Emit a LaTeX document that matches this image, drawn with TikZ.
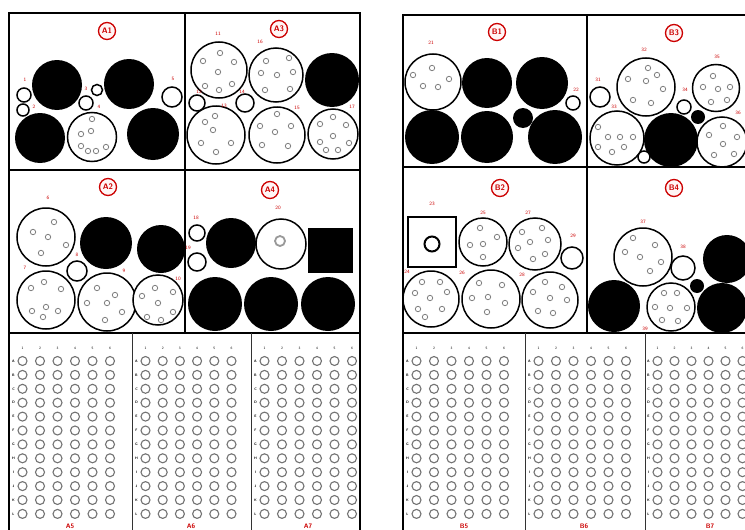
\documentclass[tikz,border=0pt]{standalone}
\usepackage{fontspec}
\setmainfont{Liberation Sans}
\newcommand\tubew[4]{\draw[tube] (#1,#2) circle[radius=#3pt]; \foreach \p/\q in {#4} {\draw[hole] (\p,\q) circle[radius=2.7pt];}}
\newcommand\plugb[3]{\fill[black] (#1,#2) circle[radius=#3pt];}
\newcommand\smallw[3]{\draw[tube] (#1,#2) circle[radius=#3pt];}
\newcommand\wellgrid[2]{% #1 left x, #2 column spacing
  \foreach \c in {1,...,6} {%
    \node[hdr] at (#1+13.5+#2*\c-#2, 348) {\c};
    \foreach \r in {0,...,11} {\draw[well] (#1+13.5+#2*\c-#2, 361+13.9*\r) circle[radius=4.5pt];}
  }
  \foreach \L [count=\r from 0] in {A,B,C,D,E,F,G,H,I,J,K,L} {\node[rowl] at (#1+4.5, 361+13.9*\r) {\L};}
}
\begin{document}
\begin{tikzpicture}[x=1pt,y=-1pt,
  tube/.style={draw=black, line width=1.5pt, fill=white},
  hole/.style={draw=black!50, line width=0.8pt},
  well/.style={draw=black!55, line width=1.1pt},
  frame/.style={draw=black, line width=1.6pt},
  thinframe/.style={draw=black!80, line width=1pt},
  num/.style={text=red!80!black, font=\fontsize{5}{6}\selectfont\sffamily, inner sep=0pt},
  bnum/.style={text=red!80!black, font=\fontsize{6.5}{7}\selectfont\sffamily\bfseries, inner sep=0pt},
  hdr/.style={text=black, font=\fontsize{3.5}{4}\selectfont\sffamily, inner sep=0pt},
  rowl/.style={text=black, font=\fontsize{3.5}{4}\selectfont\sffamily\bfseries, inner sep=0pt},
  lbl/.style={circle, draw=red!80!black, line width=1.3pt, text=red!80!black, fill=red!4,
    font=\fontsize{8}{9}\selectfont\sffamily\bfseries, inner sep=0pt, minimum size=17pt}]
\useasboundingbox (0,0) rectangle (745,530);
\clip (0,0) rectangle (745,530);
\fill[white] (0,0) rectangle (745,530);

% ---------- frames ----------
\draw[frame] (9,13) rectangle (360,545);
\draw[frame] (185,13) -- (185,333);
\draw[frame] (9,170) -- (360,170);
\draw[frame] (9,333) -- (360,333);
\draw[thinframe] (132,333) -- (132,545);
\draw[thinframe] (251,333) -- (251,545);

\draw[frame] (403,15) rectangle (765,545);
\draw[frame] (587,15) -- (587,333);
\draw[frame] (403,167) -- (765,167);
\draw[frame] (403,333) -- (765,333);
\draw[thinframe] (525,333) -- (525,545);
\draw[thinframe] (645,333) -- (645,545);

% ---------- A1 ----------
\node[lbl] (A1) at (107,31) {A1};
\plugb{57}{85}{25}
\plugb{129}{84}{25}
\plugb{40}{138}{25}
\plugb{153}{134}{26}
\tubew{92}{137}{24.5}{92/119, 91/131, 81/134, 81/146, 88/151, 96/151, 106/147}
\smallw{24}{95}{7}
\smallw{23}{110}{6}
\smallw{86}{103}{7}
\smallw{97}{90}{5.5}
\smallw{172}{97}{10}
\node[num] at (25,80) {1};
\node[num] at (34,107) {2};
\node[num] at (86,89) {3};
\node[num] at (99,107) {4};
\node[num] at (173,79) {5};

% ---------- A3 ----------
\node[lbl] (A3) at (279,29) {A3};
\tubew{219}{70}{28}{220/53, 203/61, 234/62, 218/72, 205/86, 219/90, 232/84}
\tubew{276}{75}{27}{266/61, 289/58, 261/73, 277/75, 293/72, 265/90, 290/89}
\plugb{332}{80}{27}
\tubew{216}{135}{29}{215/116, 205/122, 213/130, 201/143, 231/143, 216/152}
\tubew{277}{135}{28}{277/114, 260/126, 291/126, 275/132, 262/145, 288/146}
\tubew{333}{134}{25}{333/117, 320/124, 346/125, 333/136, 320/142, 326/150, 338/150, 349/143}
\smallw{197}{103}{8}
\smallw{245}{103}{9}
\node[num] at (218,34) {11};
\node[num] at (199,92) {12};
\node[num] at (224,106) {13};
\node[num] at (242,92) {14};
\node[num] at (297,108) {15};
\node[num] at (260,42) {16};
\node[num] at (352,107) {17};

% ---------- A2 ----------
\node[lbl] (A2) at (108,187) {A2};
\tubew{46}{237}{29}{33/232, 54/222, 48/237, 66/245, 41/253}
\plugb{106}{243}{26}
\plugb{161}{249}{24}
\tubew{46}{300}{29}{44/282, 31/288, 61/289, 46/307, 32/311, 43/317, 58/311}
\tubew{107}{302}{29}{97/288, 115/295, 87/303, 107/303, 122/312, 105/320}
\tubew{158}{300}{25}{155/288, 173/292, 142/296, 158/303, 173/312, 147/317, 161/320}
\smallw{77}{271}{10}
\node[num] at (48,198) {6};
\node[num] at (25,268) {7};
\node[num] at (77,255) {8};
\node[num] at (124,271) {9};
\node[num] at (178,279) {10};

% ---------- A4 ----------
\node[lbl] (A4) at (270,190) {A4};
\smallw{197}{233}{8}
\smallw{197}{262}{9}
\plugb{231}{243}{25}
\draw[tube] (281,244) circle[radius=25pt];
\draw[draw=black!40, line width=1.8pt] (280,241) circle[radius=5pt];
\fill[black] (308,228) rectangle (353,273);
\plugb{215}{304}{27}
\plugb{271}{304}{27}
\plugb{328}{304}{27}
\node[num] at (196,218) {18};
\node[num] at (188,248) {19};
\node[num] at (278,208) {20};

% ---------- B1 ----------
\node[lbl] (B1) at (497,32) {B1};
\tubew{433}{82}{28}{432/68, 413/75, 449/79, 423/86, 438/87}
\plugb{487}{83}{25}
\plugb{542}{83}{26}
\plugb{432}{137}{27}
\plugb{487}{137}{26}
\plugb{523}{118}{10}
\plugb{555}{137}{27}
\smallw{573}{103}{7}
\node[num] at (431,43) {21};
\node[num] at (576,90) {22};

% ---------- B3 ----------
\node[lbl] (B3) at (674,33) {B3};
\smallw{600}{97}{10}
\tubew{646}{87}{29}{648/68, 657/75, 628/79, 646/81, 663/89, 633/100, 651/103}
\tubew{716}{88}{23.5}{713/76, 703/87, 718/89, 730/87, 711/102, 727/100}
\smallw{684}{107}{7}
\tubew{617}{138}{27}{598/127, 608/137, 620/137, 633/137, 598/147, 624/147, 612/152}
\plugb{698}{117}{7}
\plugb{671}{140}{27}
\smallw{644}{157}{6}
\tubew{722}{142}{25}{723/126, 709/135, 737/137, 723/144, 714/155, 734/154}
\node[num] at (598,80) {31};
\node[num] at (644,50) {32};
\node[num] at (614,107) {33};
\node[num] at (685,90) {34};
\node[num] at (717,57) {35};
\node[num] at (738,113) {36};

% ---------- B2 ----------
\node[lbl] (B2) at (500,188) {B2};
\draw[tube] (408,217) rectangle (456,267);
\draw[black, line width=2pt] (432,244) circle[radius=7.5pt];
\tubew{483}{242}{24}{480/228, 497/237, 470/245, 483/244, 483/257}
\tubew{535}{244}{26}{522/232, 542/228, 530/242, 548/240, 518/248, 545/254, 533/259}
\smallw{572}{258}{11}
\tubew{431}{299}{28}{422/282, 440/282, 415/293, 447/292, 430/298, 418/309, 442/309, 425/317}
\tubew{491}{299}{29}{479/283, 502/285, 472/298, 488/297, 505/303, 487/312}
\tubew{550}{300}{28}{545/282, 562/287, 533/292, 550/298, 567/300, 538/311, 553/313}
\node[num] at (432,204) {23};
\node[num] at (407,272) {24};
\node[num] at (483,213) {25};
\node[num] at (462,273) {26};
\node[num] at (528,213) {27};
\node[num] at (522,275) {28};
\node[num] at (573,236) {29};

% ---------- B4 ----------
\node[lbl] (B4) at (674,188) {B4};
\tubew{643}{257}{29}{633/238, 655/245, 625/252, 640/257, 661/262, 650/271}
\smallw{683}{268}{12}
\plugb{697}{286}{7}
\plugb{727}{259}{24}
\plugb{614}{306}{26}
\tubew{671}{307}{24}{664/293, 677/293, 655/307, 670/308, 687/308, 662/320, 678/321}
\plugb{722}{308}{25}
\node[num] at (643,222) {37};
\node[num] at (683,247) {38};
\node[num] at (645,329) {39};

% ---------- racks ----------
\wellgrid{9}{17.5}
\wellgrid{132}{17.2}
\wellgrid{251}{17.5}
\wellgrid{403}{17.5}
\wellgrid{525}{17.5}
\wellgrid{644}{17}
\node[bnum] (A5) at (70,526) {A5};
\node[bnum] (A6) at (191,526) {A6};
\node[bnum] (A7) at (308,526) {A7};
\node[bnum] (B5) at (464,526) {B5};
\node[bnum] (B6) at (584,526) {B6};
\node[bnum] (B7) at (710,526) {B7};
\end{tikzpicture}
\end{document}
